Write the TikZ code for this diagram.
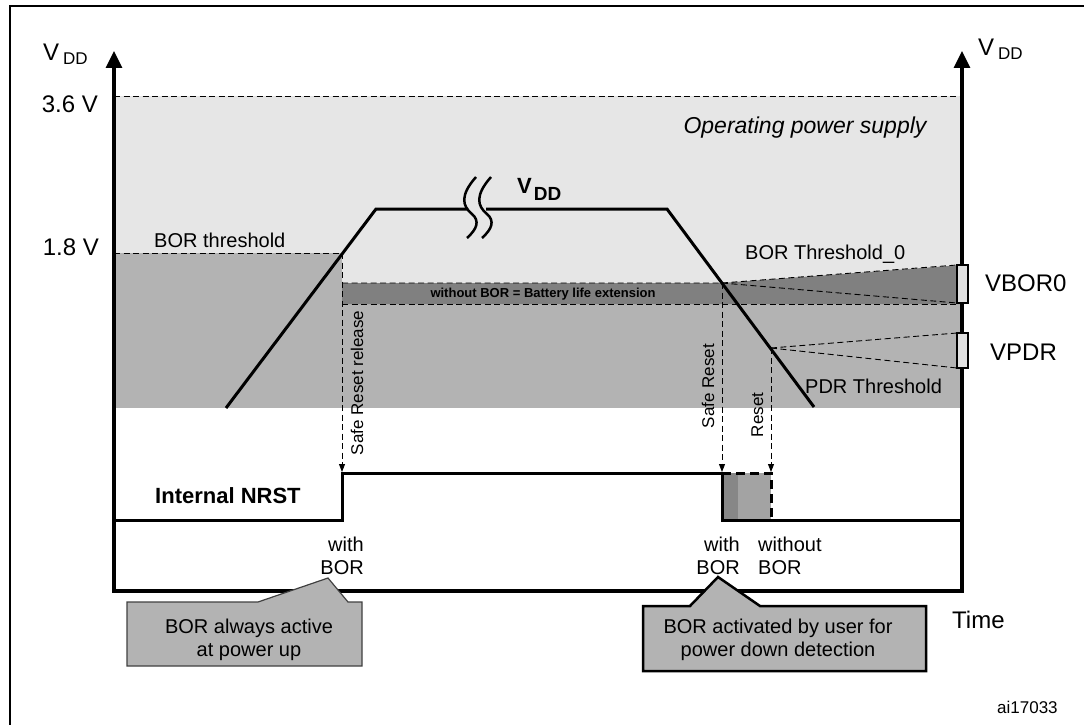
\documentclass[tikz,border=0pt]{standalone}
\usepackage{fontspec}
\setmainfont{Liberation Sans}
\usetikzlibrary{arrows.meta, calc}

\definecolor{supplygray}{HTML}{E6E6E6}
\definecolor{borgray}{HTML}{B3B3B3}
\definecolor{bandgray}{HTML}{808080}
\definecolor{boxgray}{HTML}{E0E0E0}
\definecolor{rstdark}{HTML}{878787}
\definecolor{rstlight}{HTML}{A3A3A3}

% V with a lowered DD: size of V, size of DD, drop, gap
\newcommand{\vddname}[4]{\fontsize{#1}{#1}\selectfont V\kern#4\raisebox{#3}{\fontsize{#2}{#2}\selectfont DD}}

\begin{document}
\begin{tikzpicture}[x=1pt, y=-1pt,
	wave/.style={line width=3pt},
	level/.style={dashed, line width=0.9pt, dash pattern=on 6pt off 3.5pt},
	event/.style={level, -{Triangle[width=6pt,length=8pt]}},
	lbl/.style={inner sep=0pt, font=\fontsize{20}{23}\selectfont},
	biglbl/.style={inner sep=0pt, font=\fontsize{24}{28}\selectfont},
	sidelbl/.style={inner sep=0pt, font=\fontsize{17}{20}\selectfont},
	window/.style={fill=boxgray, draw, line width=2.5pt},
	callout/.style={fill=borgray, line join=miter}]
	\useasboundingbox (0,0) rectangle (1084,725);
	% frame
	\draw[line width=2pt] (10,725) -- (10,6) -- (1084,6);

	% supply regions
	\fill[supplygray] (114,96) rectangle (962,408);
	\fill[borgray] (114,253) rectangle (342,408);
	\fill[borgray] (342,304) rectangle (962,408);
	\fill[bandgray] (342,283) -- (722,283) -- (962,265) -- (962,304) -- (342,304) -- cycle;

	% points on the VDD curve
	\coordinate (rise0) at (226,408);
	\coordinate (rise1) at (376,209);
	\coordinate (fall0) at (667,209);
	\coordinate (fall1) at (814,407);
	\coordinate (borup) at (342,253);
	\coordinate (bordown) at (722,283);
	\coordinate (pdr) at (771,348);

	% levels and thresholds
	\draw[level] (114,96) -- (962,96);
	\draw[level] (114,253) -- (borup);
	\draw[level] (342,283) -- (bordown) -- (957,265);
	\draw[level] (bordown) -- (957,303);
	\draw[level] (342,304) -- (957,304);
	\draw[level] (pdr) -- (957,333);
	\draw[level] (pdr) -- (957,368);
	\draw[event] (borup) -- (342,472);
	\draw[event] (bordown) -- (722,472);
	\draw[event] (pdr) -- (771,472);

	% VDD curve
	\draw[wave, line join=miter] (rise0) -- (rise1) -- (468,209);
	\draw[wave, line join=miter] (486,209) -- (fall0) -- (fall1);
	\foreach \dx in {0,15}
		\draw[line width=2.5pt, shift={(\dx,0)}] (476,177) .. controls (460,195) and (462,206) .. (472,214) .. controls (480,221) and (477,229) .. (467,238);

	% internal NRST
	\fill[rstdark] (722,473) rectangle (738,520);
	\fill[rstlight] (738,473) rectangle (771,520);
	\draw[wave, line join=miter] (114,520) -- (342,520) -- (342,473) -- (722,473) -- (722,520) -- (962,520);
	\draw[wave, dash pattern=on 9pt off 5pt] (722,473) -- (771,473) -- (771,520);

	% axes
	\draw[line width=3.2pt, line join=miter, {Triangle[width=16pt,length=17pt]}-{Triangle[width=16pt,length=17pt]}] (114,51) -- (114,591) -- (962,591) -- (962,51);
	\draw[window] (957,265) rectangle (968,303);
	\draw[window] (957,333) rectangle (968,368);

	% callouts
	\draw[callout, draw=black!75, line width=1.2pt] (127,602) -- (258,602) -- (328,578) -- (348,602) -- (362,602) -- (362,666) -- (127,666) -- cycle;
	\draw[callout, draw=black, line width=2.5pt] (643,606) -- (690,606) -- (718,577) -- (760,606) -- (926,606) -- (926,671) -- (643,671) -- cycle;

	% labels
	\node (vddl) [anchor=base west, inner sep=0pt] at (43,60) {\vddname{24}{17}{-4pt}{4pt}};
	\node (vddr) [anchor=base west, inner sep=0pt] at (978,56) {\vddname{24}{17}{-4pt}{4pt}};
	\node (vddc) [anchor=base west, inner sep=0pt, font=\bfseries] at (517,193) {\vddname{22}{19}{-7pt}{2pt}};
	\node (hi) [biglbl, anchor=base east] at (98,112) {3.6 V};
	\node (lo) [biglbl, anchor=base east] at (99,255) {1.8 V};
	\node (borth) [lbl, anchor=base west] at (154,247) {BOR threshold};
	\node (oper) [inner sep=0pt, anchor=base, font=\fontsize{23}{26}\selectfont\itshape] at (805,133) {Operating power supply};
	\node (borth0) [lbl, anchor=base west] at (745,259) {BOR Threshold\_0};
	\node (pdrth) [lbl, anchor=base west] at (805,393) {PDR Threshold};
	\node (vbor) [biglbl, anchor=base west] at (985,291) {VBOR0};
	\node (vpdr) [biglbl, anchor=base west] at (990,360) {VPDR};
	\node (band) [inner sep=0pt, font=\fontsize{13}{15}\selectfont\bfseries] at (543,294) {without BOR = Battery life extension};
	\node (release) [sidelbl, rotate=90, anchor=base] at (363,383) {Safe Reset release};
	\node (safe) [sidelbl, rotate=90, anchor=base] at (714,386) {Safe Reset};
	\node (reset) [sidelbl, rotate=90, anchor=base] at (763,415) {Reset};
	\node (nrst) [inner sep=0pt, anchor=base west, font=\fontsize{22}{26}\selectfont\bfseries] at (155,503) {Internal NRST};
	\node (withl) [lbl, align=right, anchor=north east] at (364,537) {with\\BOR};
	\node (withr) [lbl, align=right, anchor=north east] at (740,537) {with\\BOR};
	\node (without) [lbl, align=left, anchor=north west] at (758,537) {without\\BOR};
	\node (uptext) [lbl, align=center, anchor=north] at (249,619) {BOR always active\\at power up};
	\node (downtext) [lbl, align=center, anchor=north] at (778,619) {BOR activated by user for\\power down detection};
	\node (time) [biglbl, anchor=base west] at (952,628) {Time};
	\node (ref) [sidelbl, anchor=base west] at (997,713) {ai17033};
\end{tikzpicture}
\end{document}
